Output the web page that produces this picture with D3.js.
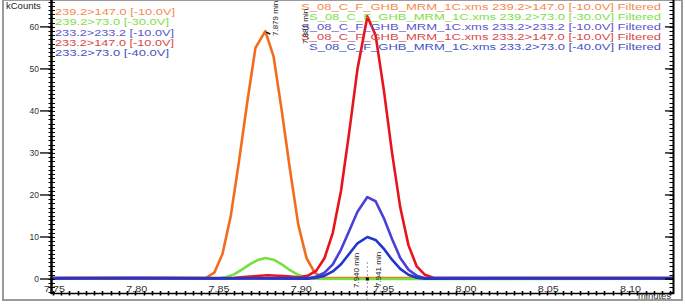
<!DOCTYPE html>
<html>
<head>
<meta charset="utf-8">
<script src="https://cdn.jsdelivr.net/npm/d3@7"></script>
<style>
	body { margin: 0; background: #fff; }
	text { font-family: "Liberation Sans", Arial, sans-serif; }
</style>
</head>
<body>
<div id="chart-area"></div>
<script>

// chart values
let xTicks = [7.75, 7.80, 7.85, 7.90, 7.95, 8.00, 8.05, 8.10];
let yTicks = [0, 10, 20, 30, 40, 50, 60];

let shortNames = ["239.2>147.0 [-10.0V]", "239.2>73.0 [-30.0V]", "233.2>233.2 [-10.0V]", "233.2>147.0 [-10.0V]", "233.2>73.0 [-40.0V]"];
let longNames = shortNames.map(n => "S_08_C_F_GHB_MRM_1C.xms " + n + " Filtered");

// orange 239.2>147.0
let orangeTime = [7.750, 7.800, 7.843, 7.848, 7.853, 7.858, 7.863, 7.868, 7.873, 7.879, 7.884, 7.889, 7.894, 7.899, 7.904, 7.909, 7.914, 7.950, 8.000, 8.127];
let orangeVal  = [0.2, 0.2, 0.3, 1.5, 6, 15, 28, 42, 55, 59, 53, 40, 26, 13, 5, 1.5, 0.3, 0.2, 0.2, 0.2];

// green 239.2>73.0
let greenTime = [7.750, 7.850, 7.855, 7.860, 7.865, 7.870, 7.875, 7.879, 7.884, 7.889, 7.894, 7.899, 7.904, 7.909, 7.940, 7.980, 8.127];
let greenVal  = [0.1, 0.1, 0.4, 1.1, 2.3, 3.6, 4.6, 5.0, 4.6, 3.5, 2.1, 1.0, 0.3, 0.05, 0.0, 0.0, 0.1];

// red 233.2>147.0
let redTime = [7.750, 7.850, 7.860, 7.870, 7.880, 7.890, 7.900, 7.905, 7.910, 7.915, 7.920, 7.925, 7.930, 7.935, 7.941, 7.946, 7.951, 7.956, 7.961, 7.966, 7.971, 7.976, 7.981, 8.050, 8.127];
let redVal  = [0.2, 0.2, 0.3, 0.6, 0.9, 0.7, 0.4, 0.8, 2, 5, 11, 21, 35, 50, 62.5, 58, 45, 30, 17, 8, 3, 1, 0.3, 0.2, 0.2];

// blue 233.2>233.2
let blue1Time = [7.750, 7.780, 7.820, 7.860, 7.905, 7.910, 7.915, 7.920, 7.925, 7.930, 7.935, 7.941, 7.946, 7.951, 7.956, 7.961, 7.966, 7.971, 7.976, 8.020, 8.070, 8.127];
let blue1Val  = [0.2, 0.25, 0.2, 0.15, 0.2, 0.6, 1.5, 3.5, 7, 11.5, 16, 19.5, 18.5, 14.5, 9.5, 5, 2.2, 0.8, 0.2, 0.2, 0.25, 0.2];

// dark blue 233.2>73.0
let blue2Time = [7.750, 7.800, 7.850, 7.905, 7.910, 7.915, 7.920, 7.925, 7.930, 7.935, 7.941, 7.946, 7.951, 7.956, 7.961, 7.966, 7.971, 7.976, 8.030, 8.127];
let blue2Val  = [0.15, 0.2, 0.15, 0.1, 0.3, 0.8, 1.8, 3.5, 6, 8.5, 10, 9.3, 7.2, 4.6, 2.4, 1, 0.3, 0.1, 0.15, 0.15];

let colors = ["#f26c1e", "#78e03c", "#4b3fd8", "#e8141c", "#2336cc"];
let legendColors = ["#f28a50", "#80e04a", "#5a55cc", "#d84848", "#4352c4"];

let series = [
	{time: orangeTime, val: orangeVal, color: colors[0]},
	{time: greenTime, val: greenVal, color: colors[1]},
	{time: redTime, val: redVal, color: colors[3]},
	{time: blue1Time, val: blue1Val, color: colors[2]},
	{time: blue2Time, val: blue2Val, color: colors[4]}
];

let W = 685, H = 306;

let svg = d3.select("#chart-area").append("svg")
	.attr("width", W)
	.attr("height", H);

// outer grey frame
svg.append("rect")
	.attr("x", 3).attr("y", 0)
	.attr("width", 679).attr("height", 300)
	.attr("fill", "none")
	.attr("stroke", "#9a9a9a")
	.attr("stroke-width", 2);

let x = d3.scaleLinear()
	.domain([7.75, 8.1267])
	.range([53, 673]);

let y = d3.scaleLinear()
	.domain([-3.33, 66.4])
	.range([293, 0]);

// lines
let line = d3.line()
	.x(d => x(d[0]))
	.y(d => y(d[1]));

series.forEach(s => {
	svg.append("path")
		.datum(s.time.map((t, i) => [t, s.val[i]]))
		.attr("fill", "none")
		.attr("stroke", s.color)
		.attr("stroke-width", 2.6)
		.attr("stroke-linejoin", "round")
		.attr("d", line);
});

// left axis
let yMinor = d3.range(-3, 67, 1);
let left = svg.append("g");
left.selectAll(".minor").data(yMinor).enter().append("line")
	.attr("x1", 48.5).attr("x2", 55)
	.attr("y1", d => Math.round(y(d)) + 0.5).attr("y2", d => Math.round(y(d)) + 0.5)
	.attr("stroke", "#000").attr("stroke-width", 1);
left.selectAll(".major").data(yTicks).enter().append("line")
	.attr("x1", 40).attr("x2", 53)
	.attr("y1", d => y(d)).attr("y2", d => y(d))
	.attr("stroke", "#000").attr("stroke-width", 1.3);
left.append("line")
	.attr("x1", 51.5).attr("x2", 51.5).attr("y1", 0).attr("y2", 294)
	.attr("stroke", "#000").attr("stroke-width", 2.5);
left.selectAll("text").data(yTicks).enter().append("text")
	.attr("x", 39).attr("y", d => y(d) + 3)
	.attr("text-anchor", "end")
	.attr("font-size", 8.5)
	.attr("fill", "#333")
	.text(d => d);

svg.append("text")
	.attr("x", 6).attr("y", 9)
	.attr("font-size", 9.5)
	.attr("fill", "#222")
	.text("kCounts");

// right axis
let right = svg.append("g");
right.selectAll(".minor").data(yMinor).enter().append("line")
	.attr("x1", 669.5).attr("x2", 673)
	.attr("y1", d => Math.round(y(d)) + 0.5).attr("y2", d => Math.round(y(d)) + 0.5)
	.attr("stroke", "#000").attr("stroke-width", 1);
right.selectAll(".major").data(yTicks).enter().append("line")
	.attr("x1", 665).attr("x2", 673)
	.attr("y1", d => y(d)).attr("y2", d => y(d))
	.attr("stroke", "#000").attr("stroke-width", 1.3);
right.append("line")
	.attr("x1", 673.5).attr("x2", 673.5).attr("y1", 0).attr("y2", 294)
	.attr("stroke", "#000").attr("stroke-width", 2);

// bottom axis
let xMinor = d3.range(0, 76).map(i => 7.75 + i * 0.005);
let bottom = svg.append("g");
bottom.append("line")
	.attr("x1", 51).attr("x2", 674).attr("y1", 293.5).attr("y2", 293.5)
	.attr("stroke", "#000").attr("stroke-width", 1.5);
bottom.selectAll(".minor").data(xMinor).enter().append("line")
	.attr("x1", d => Math.round(x(d)) + 0.5).attr("x2", d => Math.round(x(d)) + 0.5)
	.attr("y1", 291).attr("y2", 295.5)
	.attr("stroke", "#000").attr("stroke-width", 1.6);
bottom.selectAll("text").data(xTicks).enter().append("text")
	.attr("x", d => x(d) - 9).attr("y", 292)
	.attr("font-size", 8.5)
	.attr("textLength", 21)
	.attr("lengthAdjust", "spacingAndGlyphs")
	.attr("fill", "#333")
	.text(d => d.toFixed(2));
svg.append("text")
	.attr("x", 671).attr("y", 299)
	.attr("text-anchor", "end")
	.attr("font-size", 8.5)
	.attr("textLength", 33)
	.attr("lengthAdjust", "spacingAndGlyphs")
	.attr("fill", "#333")
	.text("minutes");

// legend, top left
let leftWidths = [120, 114, 119, 119, 114];
let order = [0, 1, 2, 3, 4];
svg.selectAll(".legL").data(order).enter().append("text")
	.attr("x", 55)
	.attr("y", (d, i) => 15 + i * 10.3)
	.attr("font-size", 8.5)
	.attr("textLength", d => leftWidths[d])
	.attr("lengthAdjust", "spacingAndGlyphs")
	.attr("fill", d => legendColors[d])
	.text(d => shortNames[d]);

// legend, top right
let rightWidths = [360, 352, 360, 360, 352];
svg.selectAll(".legR").data(order).enter().append("text")
	.attr("x", 661)
	.attr("y", (d, i) => 9.5 + i * 10)
	.attr("text-anchor", "end")
	.attr("font-size", 8.5)
	.attr("textLength", d => rightWidths[d])
	.attr("lengthAdjust", "spacingAndGlyphs")
	.attr("fill", d => legendColors[d])
	.text(d => longNames[d]);

// peak annotations
function vlabel(px, py, txt) {
	svg.append("text")
		.attr("transform", "translate(" + px + "," + py + ") rotate(-90)")
		.attr("font-size", 8)
		.attr("fill", "#222")
		.text(txt);
}
vlabel(278, 36, "7.879 min");
svg.append("line")
	.attr("x1", x(7.879) + 1).attr("y1", y(59) + 1)
	.attr("x2", x(7.879) + 5).attr("y2", y(59) + 3)
	.attr("stroke", "#000").attr("stroke-width", 1.5);

vlabel(308, 44, "7.881 min");

vlabel(359, 288, "7.940 min");
vlabel(381, 287, "7.941 min");
svg.append("line")
	.attr("x1", x(7.941)).attr("x2", x(7.941))
	.attr("y1", 262).attr("y2", 300)
	.attr("stroke", "#888").attr("stroke-width", 0.8)
	.attr("stroke-dasharray", "2,2");
svg.append("rect")
	.attr("x", x(7.941) - 1.5).attr("y", y(0) - 1.5)
	.attr("width", 3).attr("height", 3)
	.attr("fill", "#000");

</script>
</body>
</html>
